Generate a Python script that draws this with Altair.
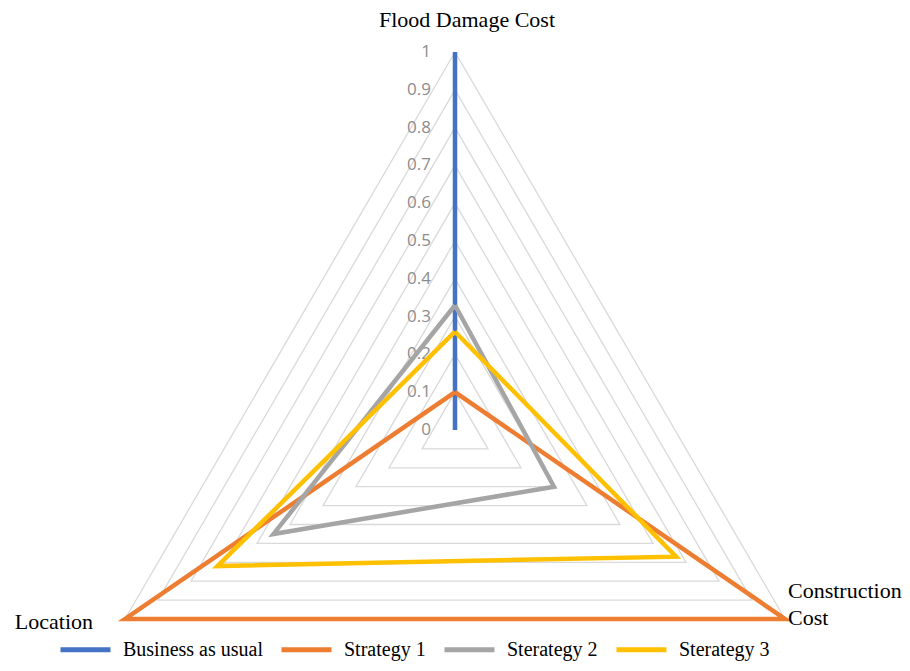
import altair as alt
import numpy as np
import pandas as pd

# ---- data ----
axes = ["Flood Damage Cost", "Construction Cost", "Location"]
axis_angles = [90, -30, 210]  # degrees: top, bottom-right, bottom-left
series = ["Business as usual", "Strategy 1", "Sterategy 2", "Sterategy 3"]
flood_damage = [1.0, 0.10, 0.33, 0.26]
construction_cost = [0.0, 1.0, 0.30, 0.67]
location = [0.0, 1.0, 0.55, 0.72]
colors = ["#4472C4", "#ED7D31", "#A5A5A5", "#FFC000"]
grid_levels = [0.1, 0.2, 0.3, 0.4, 0.5, 0.6, 0.7, 0.8, 0.9, 1.0]
tick_values = [0, 0.1, 0.2, 0.3, 0.4, 0.5, 0.6, 0.7, 0.8, 0.9, 1.0]
tick_labels = ["0", "0.1", "0.2", "0.3", "0.4", "0.5", "0.6", "0.7", "0.8", "0.9", "1"]

rad = np.deg2rad(axis_angles)
cos_a, sin_a = np.cos(rad), np.sin(rad)

# series polygons (closed)
values = [flood_damage, construction_cost, location]
rows = []
for i, s in enumerate(series):
    for o, k in enumerate([0, 1, 2, 0]):
        v = values[k][i]
        rows.append({"series": s, "ord": o, "x": v * cos_a[k], "y": v * sin_a[k]})
line_df = pd.DataFrame(rows)

# grid triangles
grows = []
for lv in grid_levels:
    for o, k in enumerate([0, 1, 2, 0]):
        grows.append({"level": lv, "ord": o, "x": lv * cos_a[k], "y": lv * sin_a[k]})
grid_df = pd.DataFrame(grows)

tick_df = pd.DataFrame({"x": [0.0] * len(tick_values), "y": tick_values, "label": tick_labels})

lab_df = pd.DataFrame({
    "label": ["Flood Damage Cost", "Construction", "Cost", "Location"],
    "axis": ["top", "right1", "right2", "left"],
    "x": [cos_a[0], cos_a[1], cos_a[1], cos_a[2]],
    "y": [sin_a[0], sin_a[1], sin_a[1], sin_a[2]],
})

xs = alt.Scale(domain=[-1.1732, 1.1732], nice=False, zero=False)
ys = alt.Scale(domain=[-0.6164, 1.1164], nice=False, zero=False)
X = alt.X("x:Q", scale=xs, axis=None)
Y = alt.Y("y:Q", scale=ys, axis=None)

grid = alt.Chart(grid_df).mark_line(color="#d9d9d9", strokeWidth=1.3).encode(
    x=X, y=Y, detail="level:N", order="ord:Q"
)

ticks = alt.Chart(tick_df).mark_text(
    align="right", baseline="middle", dx=-24, font="Open Sans", fontSize=17, color="#8c8c8c"
).encode(x=X, y=Y, text="label:N")

lines = alt.Chart(line_df).mark_line(strokeWidth=4.5).encode(
    x=X, y=Y, order="ord:Q",
    color=alt.Color(
        "series:N",
        scale=alt.Scale(domain=series, range=colors),
        sort=series,
        legend=alt.Legend(
            title=None, orient="none", direction="horizontal", legendX=50, legendY=614,
            symbolType="stroke", symbolSize=2500, symbolStrokeWidth=5,
            labelFont="Liberation Serif", labelFontSize=20, labelColor="black",
            labelOffset=10, columnPadding=8, labelLimit=300,
        ),
    ),
)

def lab(axis, **kw):
    return alt.Chart(lab_df).transform_filter(alt.datum.axis == axis).mark_text(
        font="Liberation Serif", fontSize=22, color="black", **kw
    ).encode(x=X, y=Y, text="label:N")

labels = (
    lab("top", align="center", baseline="middle", dx=12, dy=-32)
    + lab("right1", align="left", baseline="middle", dx=3, dy=-28)
    + lab("right2", align="left", baseline="middle", dx=3, dy=-1)
    + lab("left", align="right", baseline="middle", dx=-32, dy=3)
)

chart = (grid + ticks + lines + labels).properties(
    width=894, height=655, padding=0,
    autosize=alt.AutoSizeParams(type="none"),
).configure_view(strokeWidth=0)

chart.save("out.html", embed_options={"renderer": "svg", "actions": False})
